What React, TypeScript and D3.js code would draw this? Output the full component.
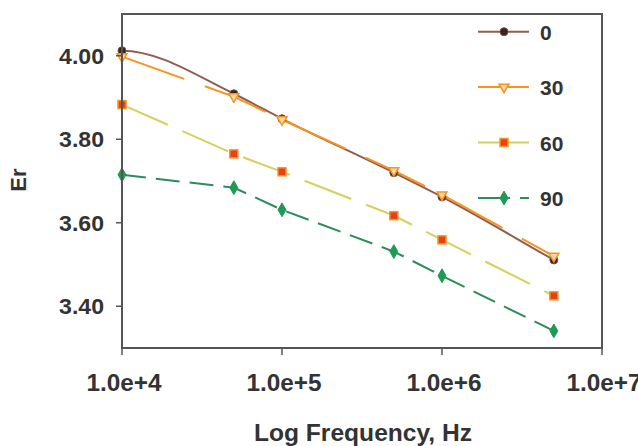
import React from "react";
import * as d3 from "d3";

const freqs = [1e4, 5e4, 1e5, 5e5, 1e6, 5e6];
const seriesNames = ["0", "30", "60", "90"];
const s0 = [4.012, 3.909, 3.849, 3.72, 3.662, 3.511];
const s30 = [3.998, 3.902, 3.847, 3.725, 3.667, 3.52];
const s60 = [3.883, 3.765, 3.722, 3.617, 3.559, 3.425];
const s90 = [3.715, 3.684, 3.631, 3.531, 3.473, 3.341];
const yTicks = [3.4, 3.6, 3.8, 4.0];
const xTicks = [1e4, 1e5, 1e6, 1e7];
const xTickLabels = ["1.0e+4", "1.0e+5", "1.0e+6", "1.0e+7"];

const W = 638;
const H = 446;
const left = 122, right = 602, top = 14, bottom = 348;

const x = d3.scaleLog().domain([1e4, 1e7]).range([left, right]);
const y = d3.scaleLinear().domain([3.3, 4.1]).range([bottom, top]);

const styles = [
  { color: "#8f5e52", dash: "", marker: "circle" },
  { color: "#f7941d", dash: "66 22", marker: "triangle" },
  { color: "#d2d25c", dash: "50 16", marker: "square" },
  { color: "#2e8b5a", dash: "24 10", marker: "diamond" },
];
const allSeries = [s0, s30, s60, s90];

// smooth Hermite curve through the points: flat start, weighted-average tangents inside
function smoothPath(pts: [number, number][]): string {
  const n = pts.length;
  const slopes: number[] = [];
  for (let i = 0; i < n - 1; i++) slopes.push((pts[i + 1][1] - pts[i][1]) / (pts[i + 1][0] - pts[i][0]));
  const t: number[] = [];
  for (let i = 0; i < n; i++) {
    if (i === 0) t.push(0);
    else if (i === n - 1) t.push(slopes[n - 2]);
    else {
      const h0 = pts[i][0] - pts[i - 1][0];
      const h1 = pts[i + 1][0] - pts[i][0];
      t.push((slopes[i - 1] * h1 + slopes[i] * h0) / (h0 + h1));
    }
  }
  const p = d3.path();
  p.moveTo(pts[0][0], pts[0][1]);
  for (let i = 0; i < n - 1; i++) {
    const h = pts[i + 1][0] - pts[i][0];
    p.bezierCurveTo(
      pts[i][0] + h / 3,
      pts[i][1] + (t[i] * h) / 3,
      pts[i + 1][0] - h / 3,
      pts[i + 1][1] - (t[i + 1] * h) / 3,
      pts[i + 1][0],
      pts[i + 1][1]
    );
  }
  return p.toString();
}

function Marker({ kind, cx, cy }: { kind: string; cx: number; cy: number }) {
  if (kind === "circle") {
    return <circle cx={cx} cy={cy} r={4} fill="#3b2418" stroke="#7a5040" strokeWidth={1} />;
  }
  if (kind === "triangle") {
    const p = d3.symbol().type(d3.symbolTriangle).size(42)() as string;
    return (
      <path d={p} transform={`translate(${cx},${cy}) rotate(180)`} fill="#fcd9a8" stroke="#f7941d" strokeWidth={1.5} />
    );
  }
  if (kind === "square") {
    return <rect x={cx - 4} y={cy - 4} width={8} height={8} fill="#e8401c" stroke="#f7941d" strokeWidth={1.5} />;
  }
  const p = d3.symbol().type(d3.symbolDiamond).size(55)() as string;
  return <path d={p} transform={`translate(${cx},${cy})`} fill="#1d9a55" stroke="#1d9a55" strokeWidth={1} />;
}

const font = "'Liberation Sans', Arial, sans-serif";

export default function App() {
  const legendY = [31.7, 87, 142.5, 198];
  return (
    <svg width={W} height={H} style={{ position: "absolute", left: 0, top: 0, background: "#fff" }}>
      <rect x={0} y={0} width={W} height={H} fill="#fff" />
      {/* series */}
      {allSeries.map((vals, i) => {
        const st = styles[i];
        const pts = vals.map((v, j) => [x(freqs[j]), y(v)] as [number, number]);
        if (i === 0) {
          return <path key={i} d={smoothPath(pts)} fill="none" stroke={st.color} strokeWidth={2} />;
        }
        const line = d3.line().curve(d3.curveLinear);
        return (
          <path key={i} d={line(pts) as string} fill="none" stroke={st.color} strokeWidth={2} strokeDasharray={st.dash || undefined} />
        );
      })}
      {allSeries.map((vals, i) => (
        <g key={"m" + i}>
          {vals.map((v, j) => (
            <Marker key={j} kind={styles[i].marker} cx={x(freqs[j])} cy={y(v)} />
          ))}
        </g>
      ))}
      {/* frame */}
      <rect x={left} y={top} width={right - left} height={bottom - top} fill="none" stroke="#555" strokeWidth={2} />
      {/* y ticks */}
      {yTicks.map((t) => (
        <g key={t}>
          <line x1={left - 6} x2={left} y1={y(t)} y2={y(t)} stroke="#555" strokeWidth={1.5} />
          <text
            transform={`translate(${104},${y(t) + 8}) scale(1.05,1)`}
            textAnchor="end"
            fontFamily={font}
            fontWeight="bold"
            fontSize={22}
            fill="#333"
          >
            {t.toFixed(2)}
          </text>
        </g>
      ))}
      {/* x ticks */}
      {xTicks.map((t, i) => (
        <g key={t}>
          <line x1={x(t)} x2={x(t)} y1={bottom} y2={bottom + 7} stroke="#555" strokeWidth={1.5} />
          <text
            transform={`translate(${x(t) + 2},${391}) scale(1.06,1)`}
            textAnchor="middle"
            fontFamily={font}
            fontWeight="bold"
            fontSize={23}
            fill="#333"
          >
            {xTickLabels[i]}
          </text>
        </g>
      ))}
      {/* axis titles */}
      <text
        transform={`translate(${363},${441}) scale(1.07,1)`}
        textAnchor="middle"
        fontFamily={font}
        fontWeight="bold"
        fontSize={23}
        fill="#333"
      >
        Log Frequency, Hz
      </text>
      <text
        transform={`translate(${26},${180}) rotate(-90)`}
        textAnchor="middle"
        fontFamily={font}
        fontWeight="bold"
        fontSize={22}
        fill="#333"
      >
        Er
      </text>
      {/* legend */}
      {seriesNames.map((name, i) => {
        const st = styles[i];
        const ly = legendY[i];
        return (
          <g key={name}>
            {i === 3 ? (
              <>
                <line x1={478} x2={510} y1={ly} y2={ly} stroke={st.color} strokeWidth={2} />
                <line x1={520} x2={529} y1={ly} y2={ly} stroke={st.color} strokeWidth={2} />
              </>
            ) : (
              <line x1={478} x2={529} y1={ly} y2={ly} stroke={st.color} strokeWidth={2} />
            )}
            <Marker kind={st.marker} cx={504} cy={ly} />
            <text x={540} y={ly + 8} fontFamily={font} fontWeight="bold" fontSize={21} fill="#333">
              {name}
            </text>
          </g>
        );
      })}
    </svg>
  );
}
